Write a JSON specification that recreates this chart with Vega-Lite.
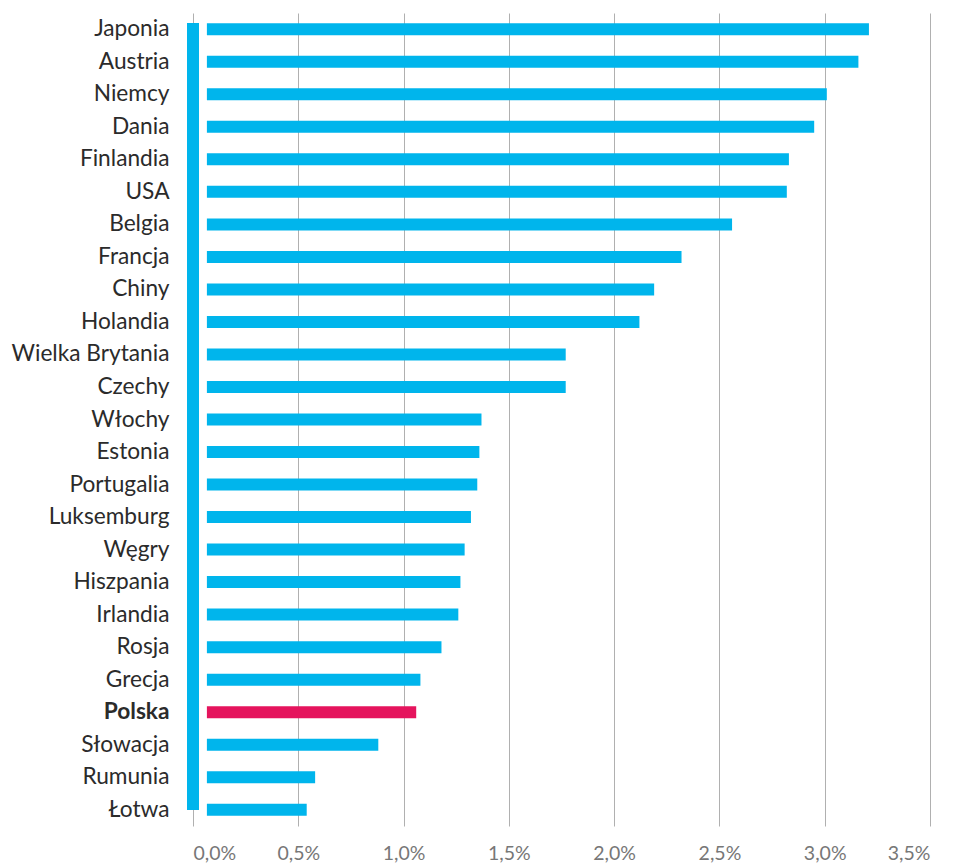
{
  "$schema": "https://vega.github.io/schema/vega-lite/v6.json",
  "width": 737,
  "height": 813,
  "autosize": {"type": "none"},
  "padding": {"left": 193, "top": 13, "right": 28, "bottom": 38},
  "background": "white",
  "config": {"view": {"stroke": null}, "font": "Lato"},
  "data": {"values": [
    {"kraj": "Japonia", "v": 3.21},
    {"kraj": "Austria", "v": 3.16},
    {"kraj": "Niemcy", "v": 3.01},
    {"kraj": "Dania", "v": 2.95},
    {"kraj": "Finlandia", "v": 2.83},
    {"kraj": "USA", "v": 2.82},
    {"kraj": "Belgia", "v": 2.56},
    {"kraj": "Francja", "v": 2.32},
    {"kraj": "Chiny", "v": 2.19},
    {"kraj": "Holandia", "v": 2.12},
    {"kraj": "Wielka Brytania", "v": 1.77},
    {"kraj": "Czechy", "v": 1.77},
    {"kraj": "Włochy", "v": 1.37},
    {"kraj": "Estonia", "v": 1.36},
    {"kraj": "Portugalia", "v": 1.35},
    {"kraj": "Luksemburg", "v": 1.32},
    {"kraj": "Węgry", "v": 1.29},
    {"kraj": "Hiszpania", "v": 1.27},
    {"kraj": "Irlandia", "v": 1.26},
    {"kraj": "Rosja", "v": 1.18},
    {"kraj": "Grecja", "v": 1.08},
    {"kraj": "Polska", "v": 1.06},
    {"kraj": "Słowacja", "v": 0.88},
    {"kraj": "Rumunia", "v": 0.58},
    {"kraj": "Łotwa", "v": 0.54}
  ]},
  "layer": [
    {
      "mark": {"type": "bar", "size": 12},
      "encoding": {
        "y": {"field": "kraj", "type": "nominal", "sort": null,
          "axis": {"title": null, "domain": false, "ticks": false, "labelPadding": 24, "labelFontSize": 22.7, "labelColor": "#2b2b2b", "labelFont": "Lato",
            "labelFontWeight": {"condition": {"test": "datum.value === 'Polska'", "value": "bold"}, "value": "normal"}}},
        "x": {"field": "v", "type": "quantitative",
          "scale": {"domain": [0, 3.5], "nice": false},
          "axis": {"title": null, "values": [0, 0.5, 1, 1.5, 2, 2.5, 3, 3.5], "domain": false, "ticks": false,
            "grid": true, "gridColor": "#b0b0b0", "gridWidth": 1,
            "labelExpr": "replace(format(datum.value, '.1f'), '.', ',') + '%'",
            "labelFontSize": 19.5, "labelColor": "#777777", "labelPadding": 18, "labelFont": "Lato"}},
        "x2": {"datum": 0.066},
        "color": {"condition": {"test": "datum.kraj === 'Polska'", "value": "#e5145d"}, "value": "#00b5ec"}
      }
    },
    {
      "mark": {"type": "rule", "strokeWidth": 12, "strokeCap": "butt", "color": "#00b5ec"},
      "encoding": {
        "x": {"datum": 0},
        "y": {"datum": "Japonia", "type": "nominal"},
        "y2": {"datum": "Łotwa"},
        "yOffset": {"value": 9},
        "y2Offset": {"value": 21}
      }
    }
  ]
}
